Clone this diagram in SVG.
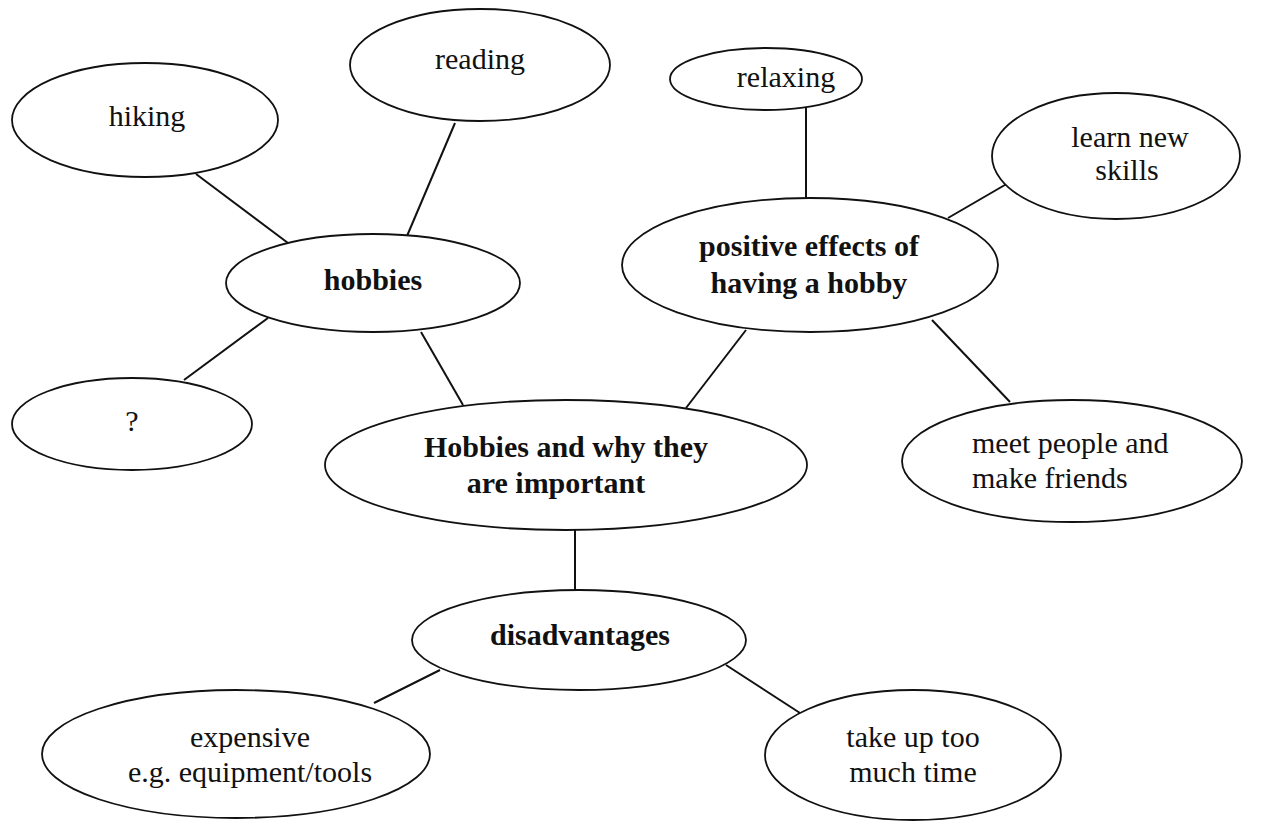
<svg xmlns="http://www.w3.org/2000/svg" width="1266" height="822" viewBox="0 0 1266 822">
<style>
.n ellipse{fill:#fff;stroke:#111;stroke-width:1.8}
.c line{stroke:#111;stroke-width:2}
text{font-family:'Liberation Serif','DejaVu Serif',serif;font-size:30px;fill:#111;text-anchor:middle}
.b{font-weight:bold}
</style>
<rect width="1266" height="822" fill="#fff"/>
<g class="c" id="connectors">
<line x1="196" y1="174" x2="288" y2="243"/>
<line x1="455" y1="123" x2="407" y2="236"/>
<line x1="268" y1="318" x2="184" y2="380"/>
<line x1="421" y1="332" x2="463" y2="405"/>
<line x1="806" y1="108" x2="806" y2="199"/>
<line x1="1010" y1="182" x2="948" y2="218"/>
<line x1="746" y1="330" x2="686" y2="408"/>
<line x1="932" y1="320" x2="1010" y2="402"/>
<line x1="575" y1="530" x2="575" y2="590"/>
<line x1="440" y1="670" x2="374" y2="703"/>
<line x1="726" y1="665" x2="800" y2="713"/>
</g>
<g class="n" id="reading"><ellipse cx="480" cy="65" rx="130" ry="56"/><text x="480" y="69">reading</text></g>
<g class="n" id="hiking"><ellipse cx="145" cy="120" rx="133" ry="57"/><text x="147" y="126">hiking</text></g>
<g class="n" id="relaxing"><ellipse cx="766" cy="79" rx="96" ry="31"/><text x="786" y="87">relaxing</text></g>
<g class="n" id="learn"><ellipse cx="1116" cy="156" rx="124" ry="63"/><text x="1130" y="147">learn new</text><text x="1127" y="180">skills</text></g>
<g class="n" id="positive"><ellipse cx="810" cy="265" rx="188" ry="67"/><text class="b" x="809" y="256">positive effects of</text><text class="b" x="809" y="293">having a hobby</text></g>
<g class="n" id="hobbies"><ellipse cx="373" cy="283" rx="147" ry="49"/><text class="b" x="373" y="290">hobbies</text></g>
<g class="n" id="unknown"><ellipse cx="132" cy="424" rx="120" ry="46"/><text x="132" y="431">?</text></g>
<g class="n" id="center"><ellipse cx="566" cy="465" rx="241" ry="65"/><text class="b" x="566" y="457">Hobbies and why they</text><text class="b" x="556" y="493">are important</text></g>
<g class="n" id="meet"><ellipse cx="1072" cy="461" rx="170" ry="61"/><text x="972" y="453" style="text-anchor:start">meet people and</text><text x="972" y="488" style="text-anchor:start">make friends</text></g>
<g class="n" id="disadvantages"><ellipse cx="579" cy="640" rx="167" ry="50"/><text class="b" x="580" y="645">disadvantages</text></g>
<g class="n" id="expensive"><ellipse cx="236" cy="754" rx="194" ry="64"/><text x="250" y="747">expensive</text><text x="250" y="782">e.g. equipment/tools</text></g>
<g class="n" id="takeup"><ellipse cx="913" cy="755" rx="148" ry="65"/><text x="913" y="747">take up too</text><text x="913" y="782">much time</text></g>
</svg>
